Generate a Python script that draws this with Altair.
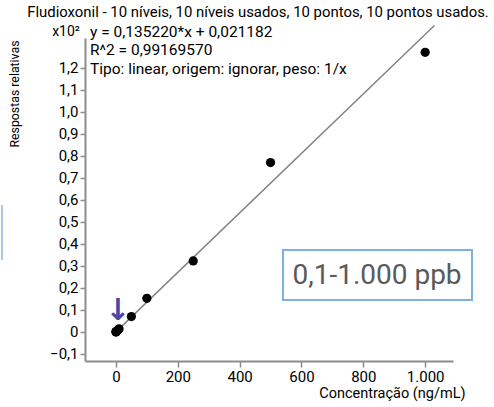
import altair as alt
import pandas as pd

# Calibration levels (ng/mL) and relative responses (x10^2)
conc = [0.1, 0.5, 1, 5, 10, 50, 100, 250, 500, 1000]
resp = [0.0004, 0.0008, 0.0015, 0.007, 0.014, 0.070, 0.153, 0.323, 0.770, 1.271]

# Fitted calibration curve as stated in the legend text
slope = 0.135220
intercept = 0.021182
fit_x = [0, 1030]

x_ticks = [0, 200, 400, 600, 800, 1000]
y_ticks = [-0.1, 0, 0.1, 0.2, 0.3, 0.4, 0.5, 0.6, 0.7, 0.8, 0.9, 1.0, 1.1, 1.2]

title_text = "Fludioxonil - 10 níveis, 10 níveis usados, 10 pontos, 10 pontos usados."
eq_lines = ["y = 0,135220*x + 0,021182", "R^2 = 0,99169570", "Tipo: linear, origem: ignorar, peso: 1/x"]
range_label = "0,1-1.000 ppb"

W, H = 368, 323
FONT = "Roboto"
AXIS_GREY = "#8c8c8c"

pts = pd.DataFrame({"conc": conc, "resp": resp})
fit = pd.DataFrame({"conc": fit_x, "resp": [(slope * x + intercept) / 100 for x in fit_x]})

x_scale = alt.Scale(domain=[-100, 1090], nice=False, zero=False)
y_scale = alt.Scale(domain=[-0.132, 1.336], nice=False, zero=False)

x_axis = alt.Axis(
    values=x_ticks,
    labelExpr="replace(format(datum.value, ','), ',', '.')",
    title="Concentração (ng/mL)",
    titleFont=FONT, titleFontSize=14.5, titleFontWeight="normal", titleColor="black",
    titleAlign="right", titleBaseline="middle", titleX=380, titleY=32, titleAngle=0,
    labelFont=FONT, labelFontSize=15, labelColor="black", labelPadding=2,
    labelOverlap=False,
    domainColor=AXIS_GREY, domainWidth=2, tickColor=AXIS_GREY, tickWidth=1.5, tickSize=6,
    grid=False,
)
y_axis = alt.Axis(
    values=y_ticks,
    labelExpr="datum.value == 0 ? '0' : replace(format(datum.value, '.1f'), '.', ',')",
    title="Respostas relativas",
    titleFont=FONT, titleFontSize=12.3, titleFontWeight="normal", titleColor="black",
    titleAngle=270, titleAlign="right", titleBaseline="middle", titleX=-71, titleY=2,
    labelFont=FONT, labelFontSize=15, labelColor="black", labelPadding=2,
    labelOverlap=False, labelBound=False,
    domainColor=AXIS_GREY, domainWidth=2, tickColor=AXIS_GREY, tickWidth=1.5, tickSize=5,
    grid=False,
)

X = alt.X("conc:Q", scale=x_scale, axis=x_axis)
Y = alt.Y("resp:Q", scale=y_scale, axis=y_axis)

line = alt.Chart(fit).mark_line(color="#8a8282", strokeWidth=1.5, clip=False).encode(x=X, y=Y)
points = alt.Chart(pts).mark_circle(color="black", size=85, opacity=1).encode(x=X, y=Y)


def label(text, x, y, size=13, align="left", color="black", font=FONT):
    return alt.Chart(pd.DataFrame({"t": [text]})).mark_text(
        font=font, fontSize=size, align=align, baseline="middle", color=color
    ).encode(x=alt.value(x), y=alt.value(y), text="t:N")


title = label(title_text, 173, -25, size=14.9, align="center")
mult = label("x10²", -5, -6, size=14, align="right")
eqs = [label(t, 5, yy, size=15.5) for t, yy in zip(eq_lines, [-6, 12, 31])]

# Marker pointing at the lowest calibration level
arrow = alt.Chart(pd.DataFrame({"conc": [6], "resp": [0.097], "t": ["↓"]})).mark_text(
    font="DejaVu Sans", fontSize=30, fontWeight="bold", color="#4b45a5", baseline="middle", align="center"
).encode(x=X, y=Y, text="t:N")

# Working range box
box = alt.Chart(pd.DataFrame({"t": [range_label]})).mark_rect(
    fill="white", stroke="#7eb0e2", strokeWidth=2
).encode(x=alt.value(198), x2=alt.value(387), y=alt.value(212), y2=alt.value(262))
box_text = label(range_label, 292, 238, size=28, align="center", color="#5a5a5a")

edge = alt.Chart(pd.DataFrame({"a": [0]})).mark_rule(color="#a8c8ec", strokeWidth=2).encode(
    x=alt.value(-83), y=alt.value(167), y2=alt.value(222)
)

chart = alt.layer(line, points, arrow, box, box_text, title, mult, *eqs, edge).properties(
    width=W, height=H,
    autosize=alt.AutoSizeParams(type="none"),
    padding={"left": 85, "top": 38, "right": 41, "bottom": 46},
    background="white",
).configure_view(stroke=None).configure_axis(labelOverlap=False)

chart.save("out.html", embed_options={"renderer": "svg", "actions": False})
